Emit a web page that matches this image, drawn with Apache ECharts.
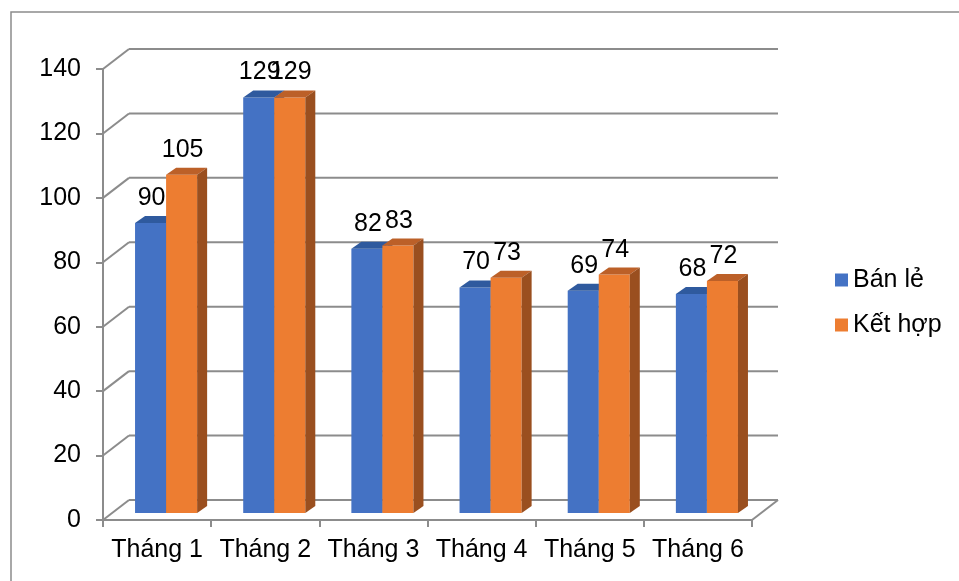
<!DOCTYPE html>
<html>
<head>
<meta charset="utf-8">
<script src="https://cdn.jsdelivr.net/npm/echarts@6/dist/echarts.min.js"></script>
<style>
  html, body { margin: 0; padding: 0; background: #fff; }
  #chart { width: 959px; height: 581px; }
</style>
</head>
<body>
<div id="chart"></div>
<script>
// Monthly figures for the two sales channels
const categories = ['Tháng 1', 'Tháng 2', 'Tháng 3', 'Tháng 4', 'Tháng 5', 'Tháng 6'];
const banLe = [90, 129, 82, 70, 69, 68];
const ketHop = [105, 129, 83, 73, 74, 72];
const yTicks = [0, 20, 40, 60, 80, 100, 120, 140];

const FONT = '"Liberation Sans", Arial, sans-serif';
const FONT_SIZE = 25;
const GRID_COLOR = '#8c8c8c';

// Pseudo-3D geometry: depth of the wall behind the plot, and bar box depth
const WALL_DX = 26, WALL_DY = -20;
const BAR_SHIFT_X = 9, BAR_SHIFT_Y = -7;
const BAR_DX = 10, BAR_DY = -7;
const BAR_RATIO = 0.287;

// Back wall gridlines + left wall diagonals (and right floor edge at 0)
function wallRenderer(params, api) {
  const v = api.value(1);
  const bw = api.size([1, 0])[0];
  const first = api.coord([0, v]);
  const last = api.coord([categories.length - 1, v]);
  const xl = first[0] - bw / 2;
  const xr = last[0] + bw / 2;
  const y = first[1];
  const style = { stroke: GRID_COLOR, lineWidth: 2, fill: null };
  const children = [
    { type: 'line', shape: { x1: xl, y1: y, x2: xl + WALL_DX, y2: y + WALL_DY }, style },
    { type: 'line', shape: { x1: xl + WALL_DX, y1: y + WALL_DY, x2: xr + WALL_DX, y2: y + WALL_DY }, style }
  ];
  if (v === 0) {
    children.push({ type: 'line', shape: { x1: xr, y1: y, x2: xr + WALL_DX, y2: y + WALL_DY }, style });
  }
  return { type: 'group', children };
}

// A box-shaped bar: front face, top face, right side face, value label
function barRenderer(side, colors) {
  return function (params, api) {
    const idx = api.value(0);
    const v = api.value(1);
    const bw = api.size([1, 0])[0];
    const top = api.coord([idx, v]);
    const base = api.coord([idx, 0]);
    const w = bw * BAR_RATIO;
    const x0 = top[0] + BAR_SHIFT_X + (side < 0 ? -w : 0);
    const x1 = x0 + w;
    const yT = top[1] + BAR_SHIFT_Y;
    const yB = base[1] + BAR_SHIFT_Y;
    return {
      type: 'group',
      children: [
        { type: 'polygon', shape: { points: [[x0, yT], [x1, yT], [x1, yB], [x0, yB]] }, style: { fill: colors.front } },
        { type: 'polygon', shape: { points: [[x0, yT], [x1, yT], [x1 + BAR_DX, yT + BAR_DY], [x0 + BAR_DX, yT + BAR_DY]] }, style: { fill: colors.top } },
        { type: 'polygon', shape: { points: [[x1, yT], [x1 + BAR_DX, yT + BAR_DY], [x1 + BAR_DX, yB + BAR_DY], [x1, yB]] }, style: { fill: colors.side } },
        { type: 'text', z2: 10, style: { text: String(v), x: x0 + w / 2 + 1, y: yT - 25, align: 'center', verticalAlign: 'middle', fontSize: FONT_SIZE, fontFamily: FONT, fill: '#000' } }
      ]
    };
  };
}

const chart = echarts.init(document.getElementById('chart'), null, { renderer: 'canvas' });

chart.setOption({
  animation: false,
  backgroundColor: '#fff',
  graphic: [
    { type: 'rect', shape: { x: 11, y: 12, width: 960, height: 580 }, style: { fill: null, stroke: '#8c8c8c', lineWidth: 1.5 }, silent: true }
  ],
  grid: { left: 103, right: 207, top: 69, bottom: 61, containLabel: false },
  legend: {
    orient: 'vertical',
    left: 830,
    top: 261,
    itemWidth: 13,
    itemHeight: 13,
    itemGap: 17,
    icon: 'rect',
    data: ['Bán lẻ', 'Kết hợp'],
    textStyle: { fontSize: FONT_SIZE, fontFamily: FONT, color: '#000', lineHeight: 28 }
  },
  xAxis: {
    type: 'category',
    data: categories,
    axisLine: { show: true, lineStyle: { color: GRID_COLOR, width: 2 } },
    axisTick: { show: true, interval: 0, length: 7, lineStyle: { color: GRID_COLOR, width: 2 } },
    axisLabel: { interval: 0, fontSize: FONT_SIZE, fontFamily: FONT, color: '#000', margin: 18 },
    splitLine: { show: false }
  },
  yAxis: {
    type: 'value',
    min: 0,
    max: 140,
    interval: 20,
    axisLine: { show: true, lineStyle: { color: GRID_COLOR, width: 2 } },
    axisTick: { show: true, length: 7, lineStyle: { color: GRID_COLOR, width: 2 } },
    axisLabel: { fontSize: FONT_SIZE, fontFamily: FONT, color: '#000', margin: 22 },
    splitLine: { show: false }
  },
  series: [
    {
      type: 'custom',
      name: 'walls',
      silent: true,
      z: 1,
      renderItem: wallRenderer,
      data: yTicks.map(v => [0, v])
    },
    {
      type: 'custom',
      name: 'Bán lẻ',
      z: 3,
      itemStyle: { color: '#4472C4' },
      renderItem: barRenderer(-1, { front: '#4472C4', top: '#2F5A9E', side: '#2F5597' }),
      data: categories.map((c, i) => [i, banLe[i]])
    },
    {
      type: 'custom',
      name: 'Kết hợp',
      z: 4,
      itemStyle: { color: '#ED7D31' },
      renderItem: barRenderer(1, { front: '#ED7D31', top: '#BC6028', side: '#9A4F1F' }),
      data: categories.map((c, i) => [i, ketHop[i]])
    }
  ]
});
</script>
</body>
</html>
